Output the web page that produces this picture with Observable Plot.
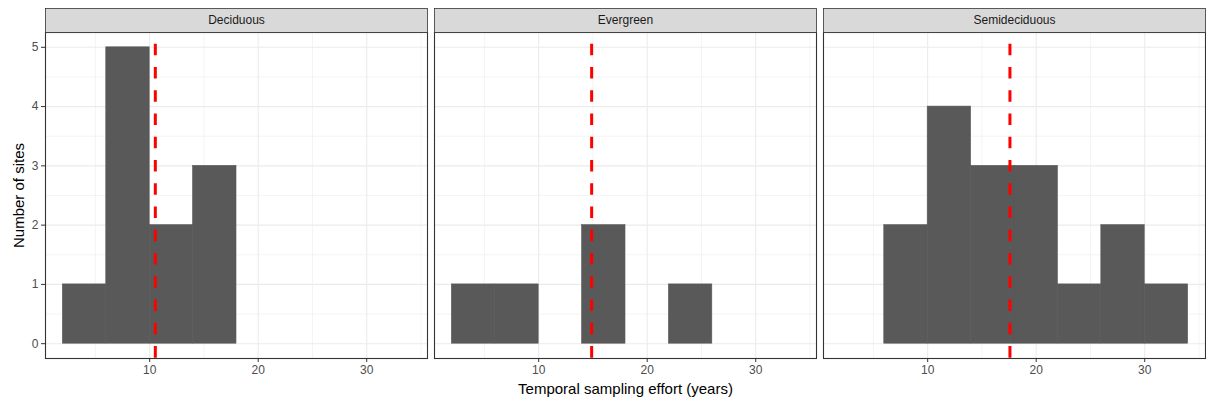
<!DOCTYPE html>
<html>
<head>
<meta charset="utf-8">
<script src="https://cdn.jsdelivr.net/npm/d3@7"></script>
<script src="https://cdn.jsdelivr.net/npm/@observablehq/plot@0.6"></script>
<style>
  html, body { margin: 0; padding: 0; background: #fff; }
</style>
</head>
<body>
<div id="chart"></div>
<script>
// ---- data ----
const facets = ["Deciduous", "Evergreen", "Semideciduous"];
const binStart = [2, 6, 10, 14, 18, 22, 26, 30];
const binWidth = 4;
const deciduousCounts = [1, 5, 2, 3, 0, 0, 0, 0];
const evergreenCounts = [1, 1, 0, 2, 0, 1, 0, 0];
const semideciduousCounts = [0, 2, 4, 3, 3, 1, 2, 1];
const meanEffort = [10.52, 14.88, 17.58];
const xTicks = [10, 20, 30];
const xMinorTicks = [5, 15, 25, 35];
const yTicks = [0, 1, 2, 3, 4, 5];
const yMinorTicks = [0.5, 1.5, 2.5, 3.5, 4.5];
const xTitle = "Temporal sampling effort (years)";
const yTitle = "Number of sites";

// ---- build tables ----
const countsByFacet = [deciduousCounts, evergreenCounts, semideciduousCounts];
const bars = [];
facets.forEach((f, i) => {
  binStart.forEach((s, j) => {
    const c = countsByFacet[i][j];
    if (c > 0) bars.push({facet: f, x1: s, x2: s + binWidth, count: c});
  });
});
const means = facets.map((f, i) => ({facet: f, mean: meanEffort[i]}));
const strips = facets.map(f => ({facet: f}));
const titleRow = [{facet: facets[1], text: xTitle}];

const W = 1206, H = 403, mT = 32, mB = 45, mL = 43.3, mR = 0.3;
const frameH = H - mT - mB;

const chart = Plot.plot({
  width: W,
  height: H,
  marginTop: mT,
  marginBottom: mB,
  marginLeft: mL,
  marginRight: mR,
  style: {fontFamily: "'Liberation Sans', Arial, sans-serif", background: "#fff"},
  fx: {domain: facets, paddingInner: 0.0187, paddingOuter: 0, axis: null, label: null},
  x: {domain: [0.4, 35.6]},
  y: {domain: [-0.25, 5.25]},
  marks: [
    Plot.gridX(xMinorTicks, {stroke: "#ebebeb", strokeOpacity: 1, strokeWidth: 0.55}),
    Plot.gridY(yMinorTicks, {stroke: "#ebebeb", strokeOpacity: 1, strokeWidth: 0.55}),
    Plot.gridX(xTicks, {stroke: "#ebebeb", strokeOpacity: 1, strokeWidth: 1.1}),
    Plot.gridY(yTicks, {stroke: "#ebebeb", strokeOpacity: 1, strokeWidth: 1.1}),
    Plot.rectY(bars, {fx: "facet", x1: "x1", x2: "x2", y1: 0, y2: "count",
      fill: "#595959", stroke: "#595959", strokeWidth: 0.6, inset: 0}),
    Plot.ruleX(means, {fx: "facet", x: "mean", stroke: "#ff0000", strokeWidth: 3,
      strokeDasharray: "11.6,11.66", strokeDashoffset: 11.6}),
    Plot.frame({stroke: "#333333", strokeWidth: 1.1}),
    Plot.frame({fill: "#d9d9d9", stroke: "#333333", strokeWidth: 0.8,
      insetTop: -24, insetBottom: frameH}),
    Plot.text(strips, {fx: "facet", text: "facet", frameAnchor: "top", lineAnchor: "middle",
      dy: -12, fontSize: 12, fill: "#1a1a1a"}),
    Plot.axisX(xTicks, {tickSize: 4, tickPadding: 3, stroke: "#333333", color: "#4d4d4d",
      fontSize: 12, label: null}),
    Plot.axisY(yTicks, {tickSize: 4, tickPadding: 3, stroke: "#333333", color: "#4d4d4d",
      fontSize: 12, label: null, tickFormat: d3.format("d")}),
    Plot.text([yTitle], {text: d => d, frameAnchor: "left", textAnchor: "middle",
      lineAnchor: "middle", dx: -26, rotate: -90, fontSize: 15, fill: "#000", facetAnchor: "left"}),
    Plot.text(titleRow, {fx: "facet", text: "text", frameAnchor: "bottom", lineAnchor: "middle",
      dy: 31, fontSize: 15, fill: "#000"})
  ]
});
document.getElementById("chart").appendChild(chart);
</script>
</body>
</html>
